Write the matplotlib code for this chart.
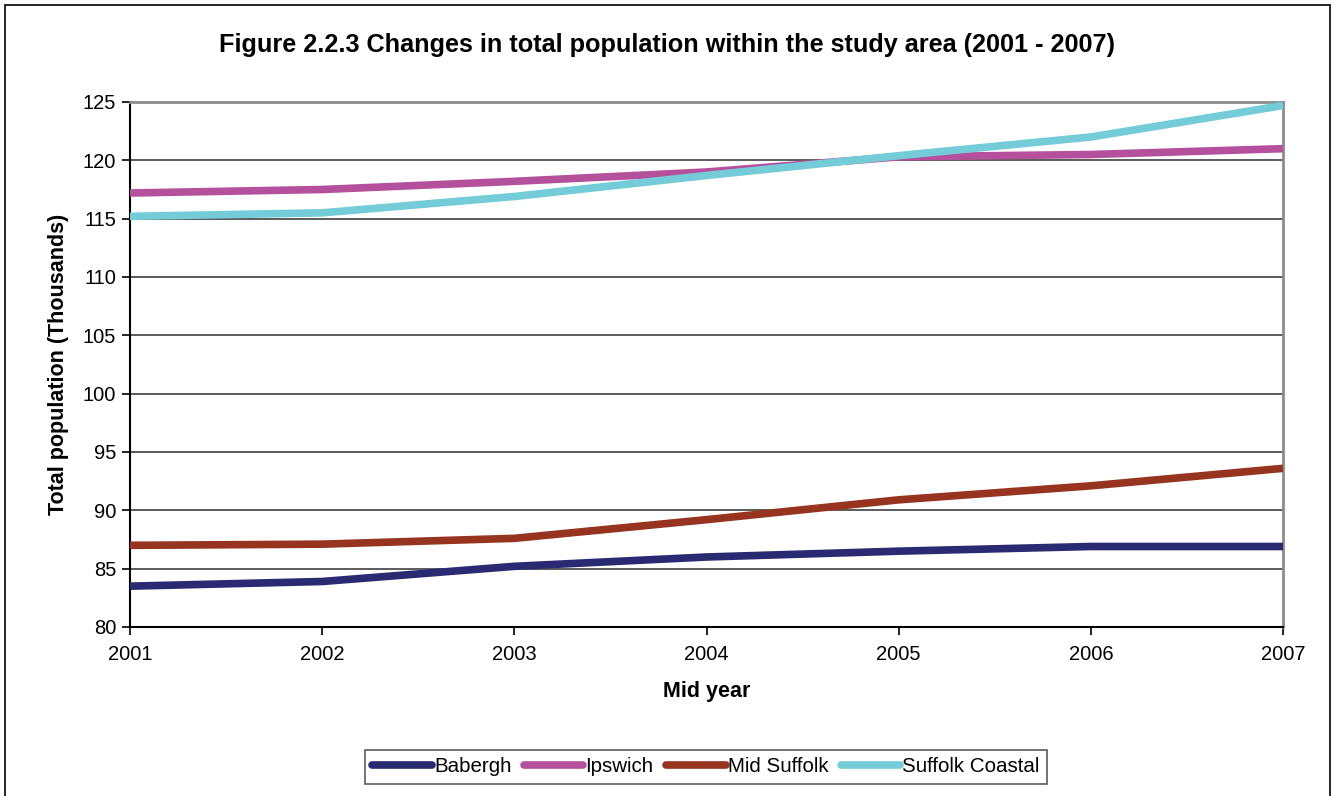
import matplotlib
matplotlib.use("Agg")
import matplotlib.pyplot as plt
from matplotlib.patches import Rectangle

years = [2001, 2002, 2003, 2004, 2005, 2006, 2007]
babergh = [83.5, 83.9, 85.2, 86.0, 86.5, 86.9, 86.9]
ipswich = [117.2, 117.5, 118.2, 119.0, 120.3, 120.5, 121.0]
mid_suffolk = [87.0, 87.1, 87.6, 89.2, 90.9, 92.1, 93.6]
suffolk_coastal = [115.2, 115.5, 116.9, 118.7, 120.4, 122.0, 124.7]
y_ticks = [80, 85, 90, 95, 100, 105, 110, 115, 120, 125]

plt.rcParams['font.family'] = ['Liberation Sans', 'DejaVu Sans']

fig = plt.figure(figsize=(13.34, 7.96), dpi=100)
fig.patch.set_facecolor('white')
fig.add_artist(Rectangle((5 / 1334, -0.01), 1325 / 1334, 1 - 5 / 796 + 0.01,
                         transform=fig.transFigure, fill=False,
                         edgecolor='black', linewidth=1.2))

ax = fig.add_axes([130 / 1334, 1 - 627 / 796, (1283 - 130) / 1334, (627 - 102) / 796])

series = [
    ("Babergh", babergh, "#2a2a72"),
    ("Ipswich", ipswich, "#b5519c"),
    ("Mid Suffolk", mid_suffolk, "#96341f"),
    ("Suffolk Coastal", suffolk_coastal, "#73ccd8"),
]
for name, vals, color in series:
    ax.plot(years, vals, color=color, linewidth=5.5, label=name,
            solid_capstyle='butt', zorder=3)

ax.set_xlim(2001, 2007)
ax.set_ylim(80, 125)
ax.set_xticks(years)
ax.set_yticks(y_ticks)
ax.tick_params(axis='both', direction='out', length=6, width=1.2,
               labelsize=14.5, color='black')
ax.tick_params(axis='x', pad=7)
ax.tick_params(axis='y', pad=4)

ax.grid(axis='y', color='#404040', linewidth=1.2, zorder=1)
ax.set_axisbelow(True)

for side in ('left', 'bottom'):
    ax.spines[side].set_color('black')
    ax.spines[side].set_linewidth(1.5)
for side in ('top', 'right'):
    ax.spines[side].set_color('#8c8c8c')
    ax.spines[side].set_linewidth(2)

ax.set_xlabel("Mid year", fontsize=15.5, fontweight='bold', labelpad=12)
ax.set_ylabel("Total population (Thousands)", fontsize=15.5, fontweight='bold', labelpad=10)

fig.text(667 / 1334, 1 - 45 / 796,
         "Figure 2.2.3 Changes in total population within the study area (2001 - 2007)",
         ha='center', va='center', fontsize=18.2, fontweight='bold')

leg = fig.legend(loc='center', bbox_to_anchor=(706 / 1334, 1 - 767 / 796), ncol=4,
                 fontsize=14.8, frameon=True, fancybox=False, handlelength=2.9,
                 handletextpad=0.1, columnspacing=0.6, borderpad=0.35,
                 borderaxespad=0)
leg.get_frame().set_edgecolor('#333333')
leg.get_frame().set_linewidth(1.2)
for line in leg.get_lines():
    line.set_solid_capstyle('round')

fig.savefig("out.png", dpi=100, facecolor='white')
